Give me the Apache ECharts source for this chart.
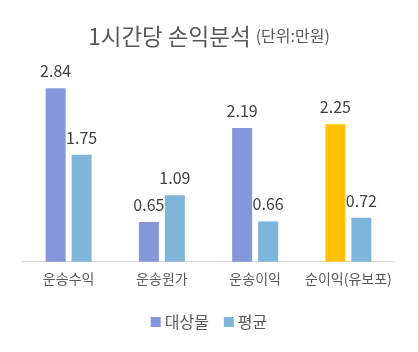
<!DOCTYPE html>
<html>
<head>
<meta charset="utf-8">
<script src="https://cdn.jsdelivr.net/npm/echarts@6/dist/echarts.min.js"></script>
<style>
  html, body { margin: 0; padding: 0; background: #fff; }
  #chart { width: 418px; height: 352px; }
</style>
</head>
<body>
<div id="chart"></div>
<script>
const categories = ['운송수익', '운송원가', '운송이익', '순이익(유보포)']
const targetValues = [2.84, 0.65, 2.19, 2.25]
const averageValues = [1.75, 1.09, 0.66, 0.72]

const FONT = '"Noto Sans CJK KR", "Noto Sans", sans-serif'

const chart = echarts.init(document.getElementById('chart'))
const labelStyle = {
  show: true,
  position: 'top',
  distance: 9,
  color: '#404040',
  fontSize: 16,
  fontFamily: FONT,
}

chart.setOption({
  animation: false,
  title: {
    text: '{a|1시간당 손익분석} {b|(단위:만원)}',
    left: 'center',
    top: 20,
    textStyle: {
      rich: {
        a: { fontSize: 22.5, color: '#595959', fontFamily: FONT, fontWeight: 'normal' },
        b: { fontSize: 16, color: '#595959', fontFamily: FONT, fontWeight: 'normal' },
      },
    },
  },
  legend: {
    bottom: 17,
    left: 'center',
    itemWidth: 10,
    itemHeight: 10,
    itemGap: 15,
    icon: 'rect',
    textStyle: { color: '#595959', fontSize: 16, fontFamily: FONT, padding: [0, 0, 0, -1] },
  },
  grid: {
    left: 22,
    right: 23,
    top: 78.5,
    bottom: 90.3,
  },
  xAxis: {
    type: 'category',
    data: categories,
    axisLine: { lineStyle: { color: '#D9D9D9', width: 1 } },
    axisTick: { show: false },
    axisLabel: {
      interval: 0,
      color: '#595959',
      fontSize: 14,
      fontFamily: FONT,
      margin: 10,
    },
  },
  yAxis: {
    type: 'value',
    min: 0,
    max: 3,
    show: false,
    splitLine: { show: false },
  },
  series: [
    {
      name: '대상물',
      type: 'bar',
      barWidth: 20,
      barGap: '30%',
      color: '#8497DB',
      data: targetValues.map((v, i) =>
        i === 3 ? { value: v, itemStyle: { color: '#FFC000' } } : v
      ),
      label: labelStyle,
    },
    {
      name: '평균',
      type: 'bar',
      barWidth: 20,
      color: '#7EB6DB',
      data: averageValues,
      label: labelStyle,
    },
  ],
})
</script>
</body>
</html>
